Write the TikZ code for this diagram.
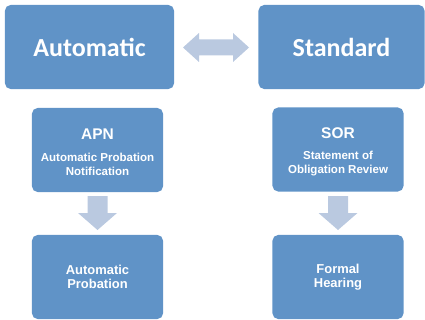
\documentclass[tikz,border=0pt]{standalone}
\usepackage{fontspec}
\newfontfamily\headfont{Carlito}
\newfontfamily\boxfont{Liberation Sans}
\definecolor{boxblue}{RGB}{96,147,199}
\definecolor{arrowblue}{RGB}{186,201,224}
\tikzset{
  box/.style={fill=boxblue, rounded corners=4pt, text=white, align=center, inner sep=0pt},
  bigbox/.style={box, minimum width=4.225cm, minimum height=2.1cm, font=\headfont\bfseries\fontsize{18.5}{22}\selectfont},
  smallbox/.style={box, minimum width=3.275cm, minimum height=2.1cm, font=\boxfont\bfseries\fontsize{9.2}{10.2}\selectfont},
  blockarrow/.style={fill=arrowblue, draw=none}
}
\begin{document}
\begin{tikzpicture}[x=0.025cm, y=-0.025cm]
  \useasboundingbox (0,0) rectangle (425,320);
  % top row
  \node[bigbox] (auto) at (89.5,47) {Automatic};
  \node[bigbox, minimum width=4.15cm] (std) at (341.5,47) {Standard};
  % middle row
  \node[smallbox] (apn) at (97.5,150) {{\fontsize{11}{13}\selectfont\rule{0pt}{10.8pt}APN}\\[5pt]
    {\fontsize{8.2}{9.6}\selectfont Automatic Probation}\\
    {\fontsize{8.2}{9.6}\selectfont Notification}};
  \node[smallbox] (sor) at (338,149.5) {{\fontsize{11}{13}\selectfont\rule{0pt}{10.8pt}SOR}\\[5pt]
    {\fontsize{8.2}{9.6}\selectfont Statement of}\\
    {\fontsize{8.2}{9.6}\selectfont Obligation Review}};
  % bottom row
  \node[smallbox] (autoprob) at (97.5,277) {Automatic\\Probation};
  \node[smallbox] (hearing) at (338,277) {Formal\\Hearing};
  % double arrow between the top boxes
  \fill[blockarrow] (183,47.5)--(199,33)--(199,39.5)--(233,39.5)--(233,33)--(249,47.5)
    --(233,62)--(233,55.5)--(199,55.5)--(199,62)--cycle;
  % down arrows
  \fill[blockarrow] (87.5,196)--(107.5,196)--(107.5,213)--(117,213)--(97.5,230)
    --(78,213)--(87.5,213)--cycle;
  \fill[blockarrow] (328,196)--(348,196)--(348,213)--(357.5,213)--(338,230)
    --(318.5,213)--(328,213)--cycle;
\end{tikzpicture}
\end{document}
